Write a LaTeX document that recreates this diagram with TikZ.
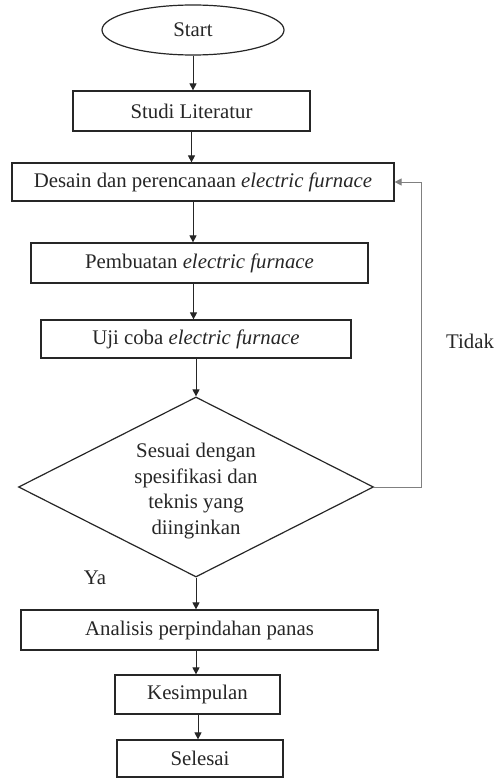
\documentclass[tikz,border=0pt]{standalone}
\usepackage{fontspec}
\setmainfont{Liberation Serif}
\usetikzlibrary{shapes.geometric,arrows.meta}
\begin{document}
\begin{tikzpicture}[x=1pt,y=-1pt,
  base/.style={draw=black!85,line width=1.2pt,inner sep=0pt,font=\fontsize{20.8}{25.5}\selectfont,text=black!85},
  box/.style={base,rectangle},
  arr/.style={draw=black!85,line width=0.9pt,-{Triangle[length=7pt,width=7pt]}},
  fb/.style={draw=black!50,line width=1pt,-{Triangle[length=7pt,width=7pt]}},
  lbl/.style={inner sep=0pt,font=\fontsize{20.8}{25.5}\selectfont,text=black!85}]
\useasboundingbox (0,0) rectangle (495,778);
\node[base,ellipse,minimum width=182pt,minimum height=50pt] (start) at (193,30) {Start};
\node[box,minimum width=237pt,minimum height=40pt] (studi) at (191.5,111) {Studi Literatur};
\node[box,minimum width=382pt,minimum height=38pt] (desain) at (203,182) {Desain dan perencanaan \textit{electric furnace}};
\node[box,minimum width=337pt,minimum height=40pt] (pemb) at (199.5,263) {Pembuatan \textit{electric furnace}};
\node[box,minimum width=310pt,minimum height=38pt] (uji) at (196,339) {Uji coba \textit{electric furnace}};
\node[base,diamond,minimum width=355pt,minimum height=180pt] (dia) at (196,487) {};
\node[lbl,align=center] (diatext) at ([yshift=-4pt]dia.center) {Sesuai dengan\\spesifikasi dan\\teknis yang\\diinginkan};
\node[box,minimum width=357pt,minimum height=40pt] (anal) at (199.5,630) {Analisis perpindahan panas};
\node[box,minimum width=165pt,minimum height=39pt] (kes) at (197.5,694.5) {Kesimpulan};
\node[box,minimum width=166pt,minimum height=37pt] (sel) at (200,758.5) {Selesai};
\node[lbl] (tidak) at (470,341) {Tidak};
\node[lbl] (ya) at (95,578) {Ya};
\draw[arr] (start.south) -- (start.south |- studi.north);
\draw[arr] (studi.south) -- (studi.south |- desain.north);
\draw[arr] ([xshift=-10pt]desain.south) -- ([xshift=-10pt]desain.south |- pemb.north);
\draw[arr] ([xshift=-6pt]pemb.south) -- ([xshift=-6pt]pemb.south |- uji.north);
\draw[arr] (uji.south) -- (dia.north);
\draw[arr] (dia.south) -- (dia.south |- anal.north);
\draw[arr] (dia.south |- anal.south) -- (dia.south |- kes.north);
\draw[arr] ([xshift=0.5pt]kes.south) -- ([xshift=0.5pt]kes.south |- sel.north);
\coordinate (turn) at (421,487);
\draw[fb] (dia.east) -- (turn) |- (desain.east);
\end{tikzpicture}
\end{document}
